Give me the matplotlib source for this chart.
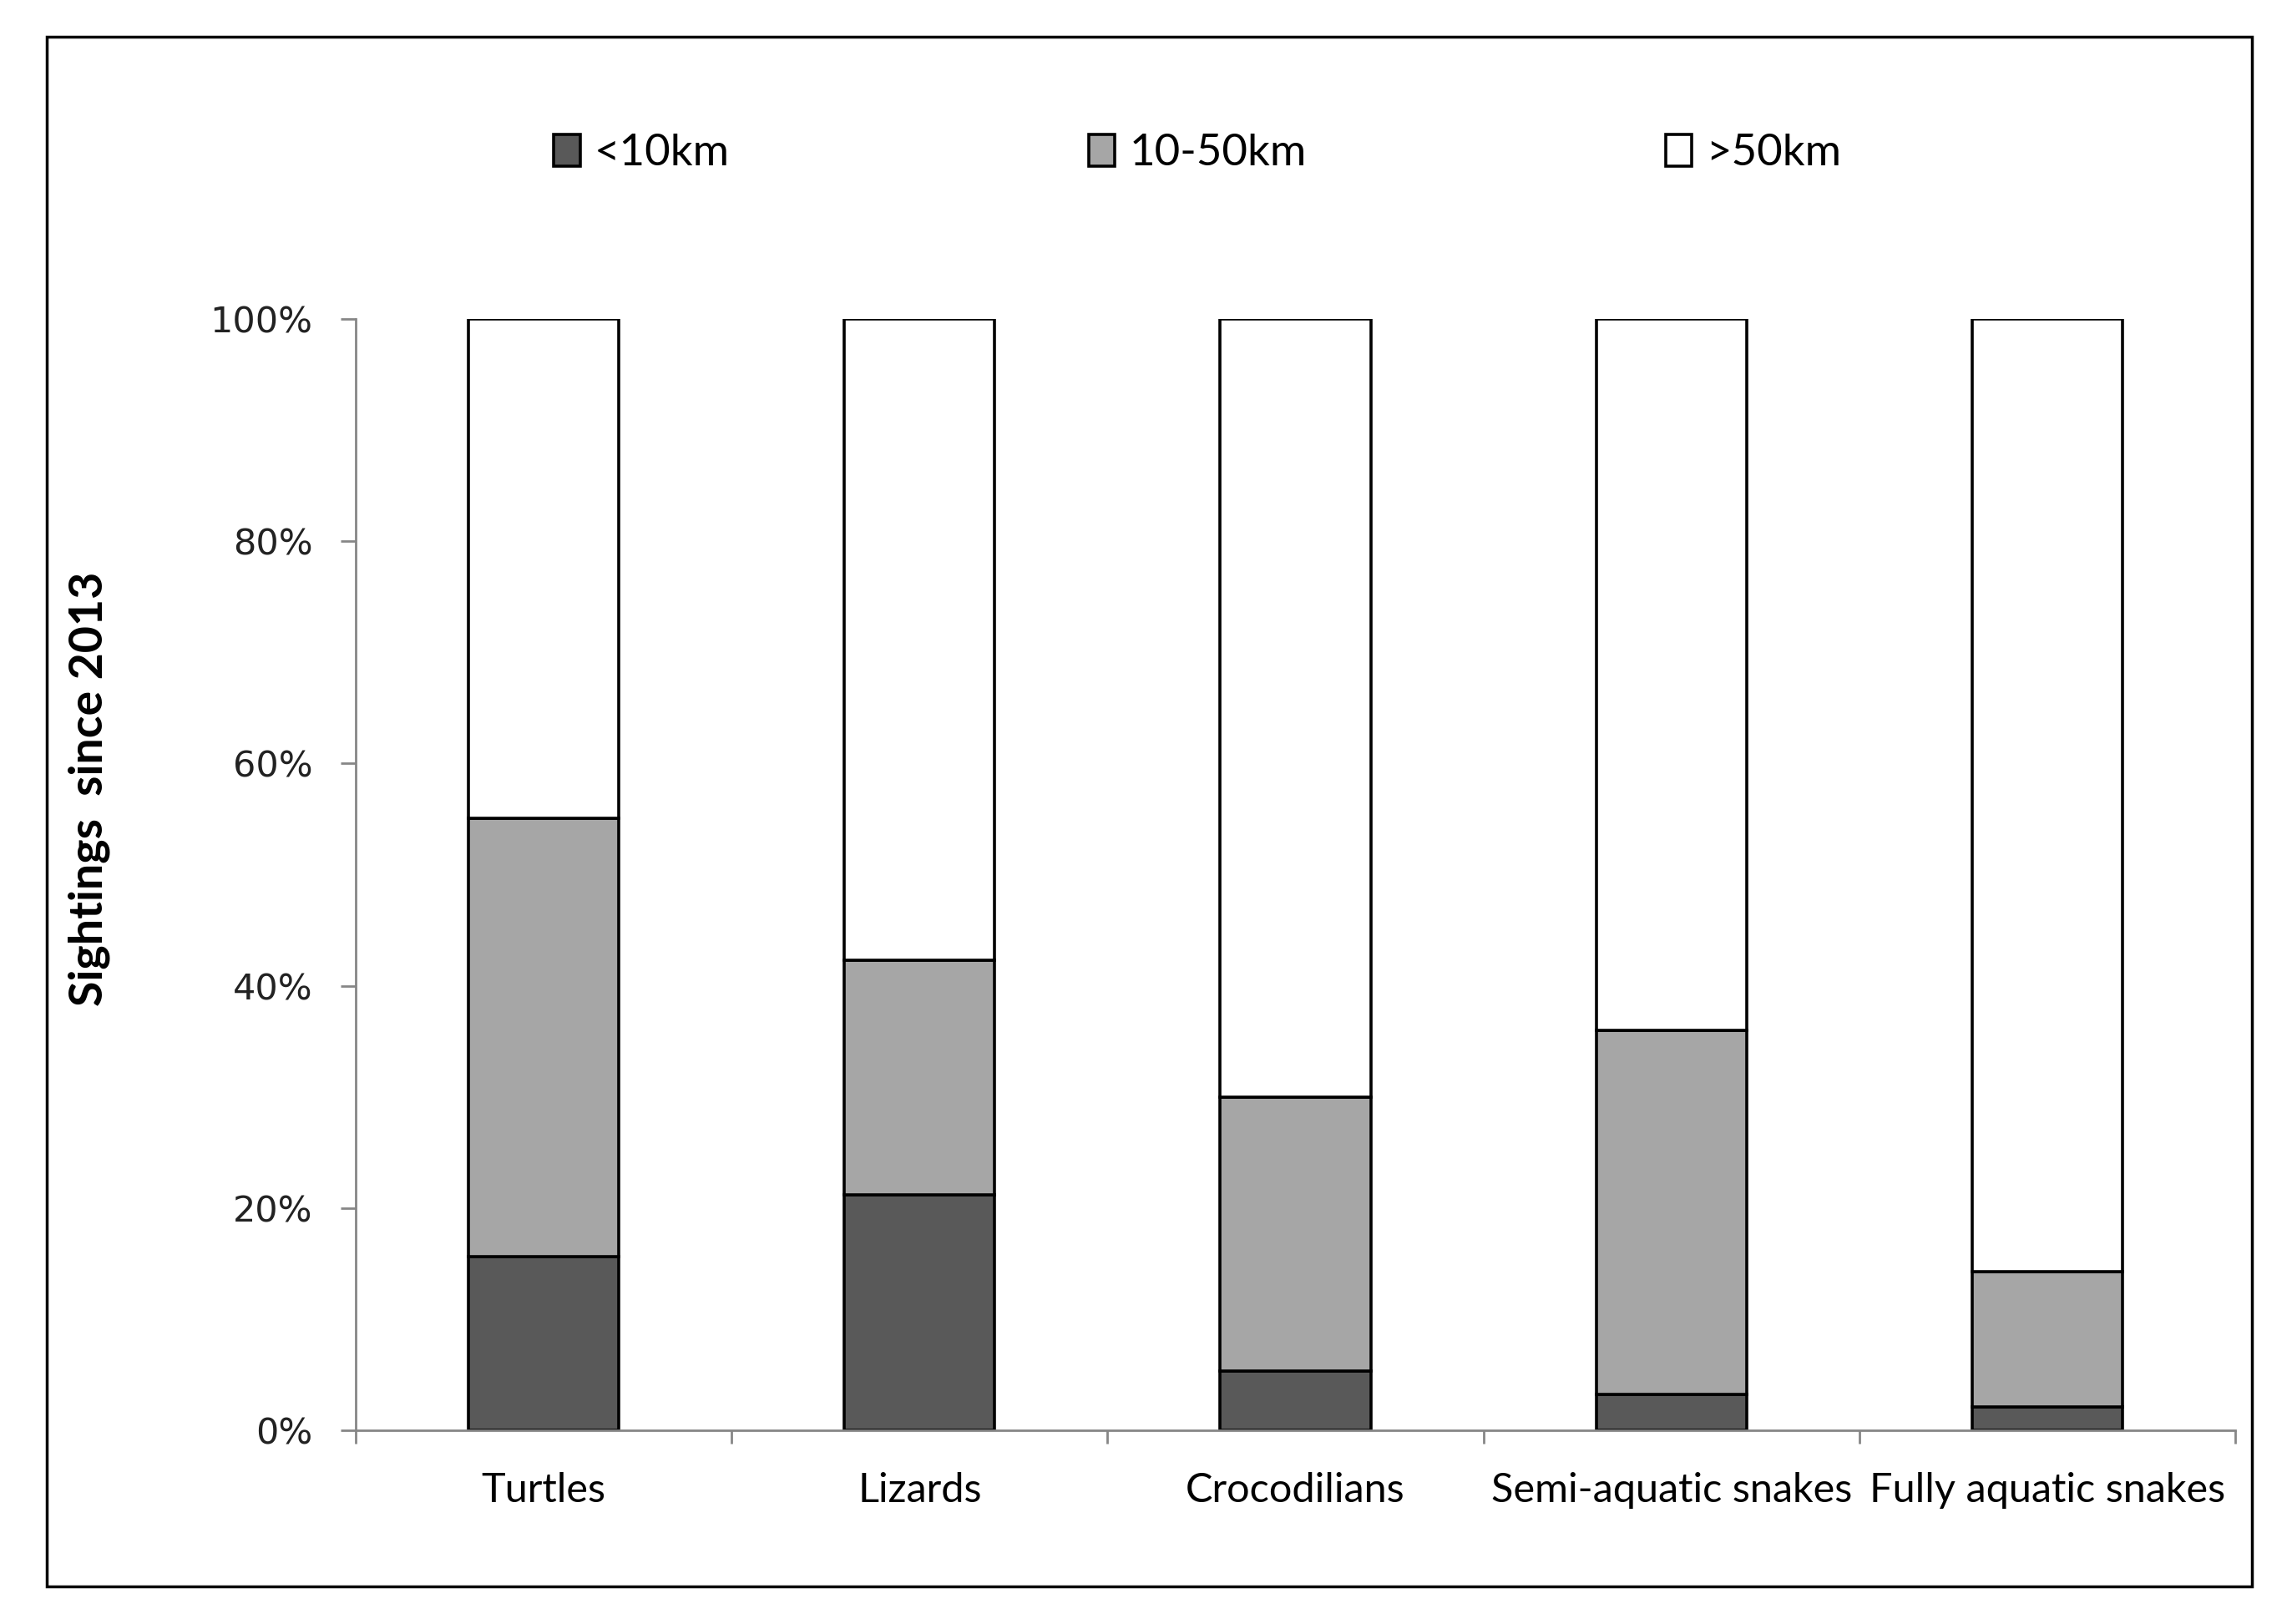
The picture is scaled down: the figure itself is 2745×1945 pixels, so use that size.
import matplotlib
matplotlib.use('Agg')
import matplotlib.pyplot as plt
import numpy as np
from matplotlib.patches import Rectangle
from matplotlib.ticker import PercentFormatter

# values (% of sightings)
categories = ['Turtles', 'Lizards', 'Crocodilians', 'Semi-aquatic snakes', 'Fully aquatic snakes']
near = np.array([15.6, 21.2, 5.3, 3.2, 2.1])     # <10km
mid = np.array([39.5, 21.1, 24.7, 32.8, 12.2])   # 10-50km
far = np.array([44.9, 57.7, 70.0, 64.0, 85.7])   # >50km
series_labels = ['<10km', '10-50km', '>50km']
yticks = [0, 20, 40, 60, 80, 100]

W, H = 2745, 1945
fig = plt.figure(figsize=(W/100, H/100), dpi=100)

# outer frame
fig.patches.append(Rectangle((56/W, 1-1900/H), (2697-56)/W, (1900-44)/H,
                             transform=fig.transFigure, fill=False,
                             edgecolor='black', linewidth=2.5))

ax = fig.add_axes([426/W, 1-1713/H, (2677-426)/W, (1713-382)/H])
x = np.arange(len(categories))
b1 = ax.bar(x, near, width=0.4, color='#595959', edgecolor='black', linewidth=2.6)
b2 = ax.bar(x, mid, width=0.4, bottom=near, color='#a6a6a6', edgecolor='black', linewidth=2.6)
b3 = ax.bar(x, far, width=0.4, bottom=near+mid, color='white', edgecolor='black', linewidth=2.6)

ax.set_xlim(-0.5, 4.5)
ax.set_ylim(0, 100)
for s in ['top', 'right']:
    ax.spines[s].set_visible(False)
for s in ['left', 'bottom']:
    ax.spines[s].set_color('#868686')
    ax.spines[s].set_linewidth(2)

ax.set_xticks(x)
ax.set_xticklabels(categories, fontfamily='Lato', fontsize=35)
ax.set_xticks(np.arange(-0.5, 5, 1), minor=True)
ax.tick_params(axis='x', which='major', length=0, pad=36)
ax.tick_params(axis='x', which='minor', length=11.5, width=2, color='#868686')

ax.set_yticks(yticks)
ax.yaxis.set_major_formatter(PercentFormatter(decimals=0))
ax.tick_params(axis='y', length=13, width=2, color='#868686', pad=24, labelsize=31)
for t in ax.get_yticklabels():
    t.set_fontfamily('DejaVu Sans')
    t.set_color('#222222')

fig.text(107/W, 1-945/H, 'Sightings  since 2013', rotation=90, ha='center', va='center',
         fontfamily='Lato', fontweight='bold', fontsize=40)

fig.legend([b1, b2, b3], series_labels, loc='center', bbox_to_anchor=(1434/W, 1-184/H),
           ncol=3, frameon=False, prop={'family': 'Lato', 'size': 38},
           handlelength=0.6, handleheight=0.72, handletextpad=0.32, columnspacing=8.15)

fig.savefig('out.png', dpi=100)
